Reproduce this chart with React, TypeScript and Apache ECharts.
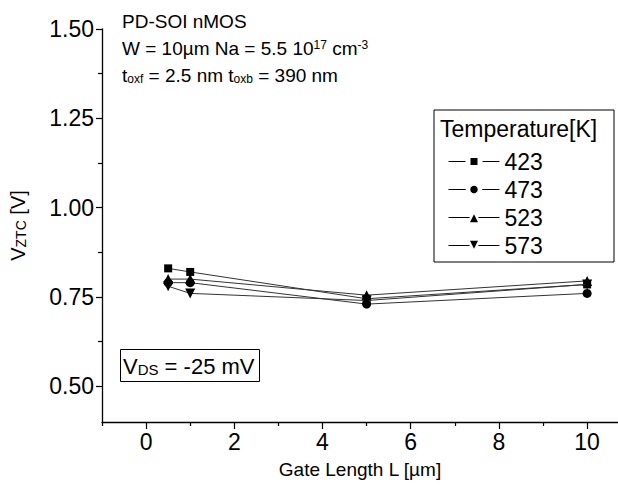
import React, { useEffect, useRef } from 'react';
import * as echarts from 'echarts';

const gateLengths = [0.5, 1, 5, 10];
const temperatures = ['423', '473', '523', '573'];
const v423 = [0.83, 0.82, 0.745, 0.785];
const v473 = [0.79, 0.79, 0.73, 0.76];
const v523 = [0.8, 0.8, 0.755, 0.795];
const v573 = [0.78, 0.76, 0.74, 0.785];
const xMajorTicks = [0, 2, 4, 6, 8, 10];
const xMinorTicks = [-1, 1, 3, 5, 7, 9];
const yMajorTicks = [0.5, 0.75, 1.0, 1.25, 1.5];
const yMinorTicks = [0.625, 0.875, 1.125, 1.375];

const FONT = 'Liberation Sans, Arial, Helvetica, sans-serif';

const subRich = (F: number, S: number, d: number) => ({
  m: { fontSize: F, lineHeight: F, verticalAlign: 'bottom', fontFamily: FONT, color: '#000' },
  s: { fontSize: S, lineHeight: F + 2 * d, verticalAlign: 'bottom', fontFamily: FONT, color: '#000' },
});
const supRich = (F: number, S: number, d: number) => ({
  m: { fontSize: F, lineHeight: F, verticalAlign: 'top', fontFamily: FONT, color: '#000' },
  s: { fontSize: S, lineHeight: F + 2 * d, verticalAlign: 'top', fontFamily: FONT, color: '#000' },
});

export default function App() {
  const ref = useRef<HTMLDivElement>(null);
  useEffect(() => {
    if (!ref.current) return;
    const chart = echarts.init(ref.current, undefined, { renderer: 'svg' });
    const valuesList = [v423, v473, v523, v573];
    const symbols = ['rect', 'circle', 'triangle', 'path://M0,0L10,0L5,10Z'];
    const sizes = [8, 9, 10, 10];
    const legendBorder = [5, 4.5, 2.5, 2.5];
    const series = temperatures.map((t, k) => ({
      type: 'line',
      name: t,
      data: gateLengths.map((x, i) => [x, valuesList[k][i]]),
      symbol: symbols[k],
      symbolSize: sizes[k],
      showSymbol: true,
      itemStyle: { color: '#000' },
      lineStyle: { color: '#333', width: 1 },
      xAxisIndex: 0,
      yAxisIndex: 0,
      z: 3 + k,
    }));
    const axisLineStyle = { color: '#000', width: 1.3 };
    chart.setOption({
      animation: false,
      backgroundColor: '#fff',
      grid: { left: 101, top: 29, width: 517, height: 393, containLabel: false },
      xAxis: [
        {
          type: 'value',
          min: -1,
          max: 10.7,
          position: 'bottom',
          axisLine: { show: true, onZero: false, lineStyle: axisLineStyle },
          axisTick: { show: true, customValues: xMajorTicks, length: 7, lineStyle: { color: '#000', width: 1.2 } },
          axisLabel: { customValues: xMajorTicks, fontSize: 23, color: '#000', margin: 8, fontFamily: FONT },
          splitLine: { show: false },
          name: 'Gate Length L [µm]',
          nameLocation: 'middle',
          nameGap: 38,
          nameTextStyle: { fontSize: 19, color: '#000', fontFamily: FONT },
        },
        {
          type: 'value',
          min: -1,
          max: 10.7,
          position: 'bottom',
          axisLine: { show: false, onZero: false },
          axisTick: { show: true, customValues: xMinorTicks, length: 4, lineStyle: { color: '#000', width: 1.2 } },
          axisLabel: { show: false },
          splitLine: { show: false },
        },
      ],
      yAxis: [
        {
          type: 'value',
          min: 0.4,
          max: 1.5,
          position: 'left',
          axisLine: { show: true, onZero: false, lineStyle: axisLineStyle },
          axisTick: { show: true, customValues: yMajorTicks, length: 6, lineStyle: { color: '#000', width: 1.2 } },
          axisLabel: {
            customValues: yMajorTicks,
            fontSize: 23,
            color: '#000',
            margin: 8,
            fontFamily: FONT,
            formatter: (v: number) => v.toFixed(2),
          },
          splitLine: { show: false },
          name: '{m|V}{s|ZTC}{m| [V]}',
          nameLocation: 'middle',
          nameGap: 74,
          nameTextStyle: { rich: subRich(20, 14, 6) },
        },
        {
          type: 'value',
          min: 0.4,
          max: 1.5,
          position: 'left',
          axisLine: { show: false, onZero: false },
          axisTick: { show: true, customValues: yMinorTicks, length: 4, lineStyle: { color: '#000', width: 1.2 } },
          axisLabel: { show: false },
          splitLine: { show: false },
        },
      ],
      legend: {
        orient: 'vertical',
        left: 443,
        top: 145,
        itemWidth: 51,
        itemHeight: 15,
        itemGap: 5,
        data: temperatures.map((t, k) => ({
          name: t,
          itemStyle: { borderColor: '#fff', borderWidth: legendBorder[k] },
        })),
        textStyle: { fontSize: 23, lineHeight: 23, color: '#000', fontFamily: FONT },
        lineStyle: { color: '#000', width: 1 },
      },
      graphic: [
        {
          type: 'rect',
          shape: { x: 434, y: 110, width: 180, height: 152 },
          style: { fill: 'none', stroke: '#000', lineWidth: 1 },
          z: 1,
        },
        {
          type: 'text',
          x: 440,
          y: 129,
          style: { text: 'Temperature[K]', fontSize: 23, fontFamily: FONT, fill: '#000', verticalAlign: 'middle' },
        },
        {
          type: 'text',
          x: 122,
          y: 11.5,
          style: { text: 'PD-SOI nMOS', fontSize: 19, fontFamily: FONT, fill: '#000', verticalAlign: 'top' },
        },
        {
          type: 'text',
          x: 122,
          y: 38.5,
          style: {
            text: '{m|W = 10µm Na = 5.5 10}{s|17}{m| cm}{s|-3}',
            rich: supRich(19, 12, 6),
            verticalAlign: 'top',
          },
        },
        {
          type: 'text',
          x: 122,
          y: 53.5,
          style: {
            text: '{m|t}{s|oxf}{m| = 2.5 nm t}{s|oxb}{m| = 390 nm}',
            rich: subRich(19, 12, 6),
            verticalAlign: 'top',
          },
        },
        {
          type: 'rect',
          shape: { x: 120.5, y: 349.5, width: 139, height: 32 },
          style: { fill: 'none', stroke: '#000', lineWidth: 1 },
        },
        {
          type: 'text',
          x: 123,
          y: 343,
          style: {
            text: '{m|V}{s|DS}{m| = -25 mV}',
            rich: subRich(22, 15, 6),
            verticalAlign: 'top',
          },
        },
      ],
      series,
    });
    return () => chart.dispose();
  }, []);
  return <div ref={ref} style={{ position: 'fixed', left: 0, top: 0, width: 618, height: 490 }} />;
}
